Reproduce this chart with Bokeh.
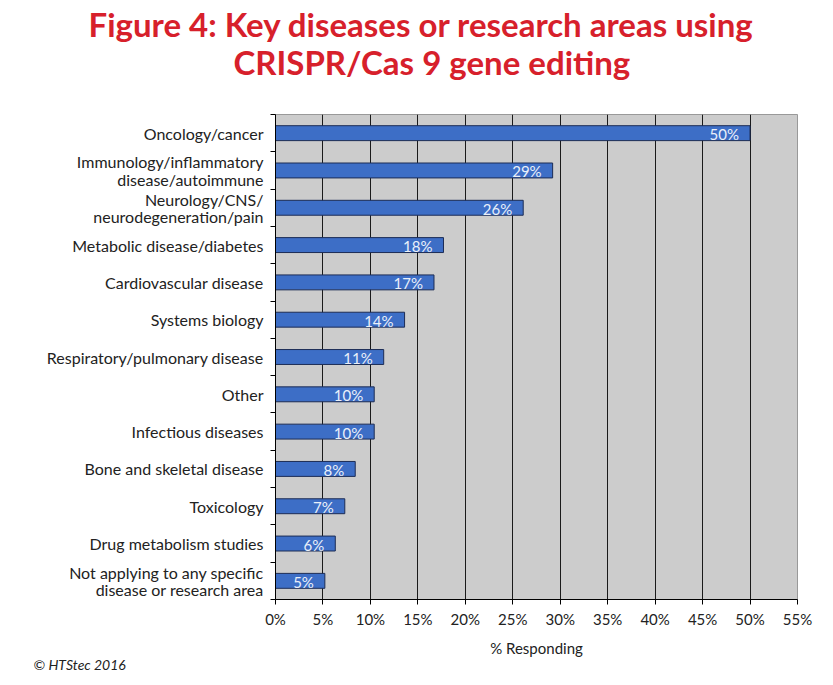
from bokeh.plotting import figure
from bokeh.models import FixedTicker, Range1d, Title, ColumnDataSource
from bokeh.core.properties import value
from bokeh.embed import file_html
from bokeh.resources import INLINE

title_lines = ["Figure 4: Key diseases or research areas using", "CRISPR/Cas 9 gene editing"]
categories = [
    "Oncology/cancer",
    "Immunology/inflammatory\ndisease/autoimmune",
    "Neurology/CNS/\nneurodegeneration/pain",
    "Metabolic disease/diabetes",
    "Cardiovascular disease",
    "Systems biology",
    "Respiratory/pulmonary disease",
    "Other",
    "Infectious diseases",
    "Bone and skeletal disease",
    "Toxicology",
    "Drug metabolism studies",
    "Not applying to any specific\ndisease or research area",
]
values = [50, 29.2, 26.1, 17.7, 16.7, 13.6, 11.4, 10.4, 10.4, 8.4, 7.3, 6.3, 5.2]
value_labels = ["50%", "29%", "26%", "18%", "17%", "14%", "11%", "10%", "10%", "8%", "7%", "6%", "5%"]
x_ticks = [0, 5, 10, 15, 20, 25, 30, 35, 40, 45, 50, 55]
x_tick_labels = ["0%", "5%", "10%", "15%", "20%", "25%", "30%", "35%", "40%", "45%", "50%", "55%"]

FONT = "Lato"
RED = "#d7202b"
n = len(categories)
ypos = [n - 1 - i for i in range(n)]

src = ColumnDataSource(dict(y=ypos, v=values, lab=value_labels, cat=categories))

p = figure(width=825, height=677, output_backend="svg", toolbar_location=None,
           x_range=Range1d(0, 55), y_range=Range1d(-0.5, n - 0.5),
           min_border_left=275, min_border_right=28, min_border_top=114, min_border_bottom=78,
           title=None)

p.background_fill_color = "#cccccc"
p.border_fill_color = "white"
p.outline_line_color = "#999999"

# titles: spacer, then line 2, then line 1 (stacked outward from the frame)
spacer = Title(text=" ", text_font_size="1px", standoff=32, text_color="white")
p.add_layout(spacer, "above")
t2 = Title(text=title_lines[1], align="left", offset=-42,
           text_font=FONT, text_font_style="bold", text_font_size="33px",
           text_color=RED, standoff=-4)
p.add_layout(t2, "above")
t1 = Title(text=title_lines[0], align="left", offset=-187,
           text_font=FONT, text_font_style="bold", text_font_size="33px",
           text_color=RED, standoff=-4)
p.add_layout(t1, "above")

p.hbar(y="y", right="v", height=0.4, left=0, source=src,
       fill_color="#3d6ec6", line_color="#1c2c55", line_width=1)

p.text(x="v", y="y", text="lab", source=src, text_align="right", text_baseline="middle",
       x_offset=-11, y_offset=1, text_color="#eaf0fa", text_font=value(FONT),
       text_font_size="15px")

# x axis
p.xaxis.ticker = FixedTicker(ticks=x_ticks)
p.xaxis.major_label_overrides = {t: l for t, l in zip(x_ticks, x_tick_labels)}
p.xaxis.axis_label = "% Responding"
p.xaxis.axis_label_text_font = FONT
p.xaxis.axis_label_text_font_style = "normal"
p.xaxis.axis_label_text_font_size = "15px"
p.xaxis.axis_label_text_color = "#222222"
p.xaxis.axis_label_standoff = 8
p.xaxis.major_label_text_font = FONT
p.xaxis.major_label_text_font_size = "15px"
p.xaxis.major_label_text_color = "#222222"
p.xaxis.major_label_standoff = 5
p.xaxis.major_tick_in = 0
p.xaxis.major_tick_out = 5
p.xaxis.minor_tick_line_color = None
p.xaxis.axis_line_color = "black"
p.xaxis.major_tick_line_color = "black"

# y axis: labels at band centres, ticks at band edges
p.yaxis.ticker = FixedTicker(ticks=ypos, minor_ticks=[k - 0.5 for k in range(n + 1)])
p.yaxis.major_label_overrides = {y: c for y, c in zip(ypos, categories)}
p.yaxis.major_label_text_font = FONT
p.yaxis.major_label_text_font_size = "16px"
p.yaxis.major_label_text_line_height = 0.9
p.yaxis.major_label_text_color = "#222222"
p.yaxis.major_label_text_align = "right"
p.yaxis.major_label_standoff = 7
p.yaxis.major_tick_in = 0
p.yaxis.major_tick_out = 0
p.yaxis.minor_tick_in = 0
p.yaxis.minor_tick_out = 5
p.yaxis.minor_tick_line_color = "black"
p.yaxis.axis_line_color = "black"

p.xgrid.ticker = FixedTicker(ticks=x_ticks)
p.xgrid.grid_line_color = "#1a1a1a"
p.xgrid.grid_line_width = 1
p.ygrid.grid_line_color = None

cp = Title(text="\u00a9 HTStec 2016", align="left", offset=-242, text_font=FONT,
           text_font_style="italic", text_font_size="14px", text_color="#222222", standoff=-12)
p.add_layout(cp, "below")

open("out.html", "w").write(file_html(p, INLINE))
